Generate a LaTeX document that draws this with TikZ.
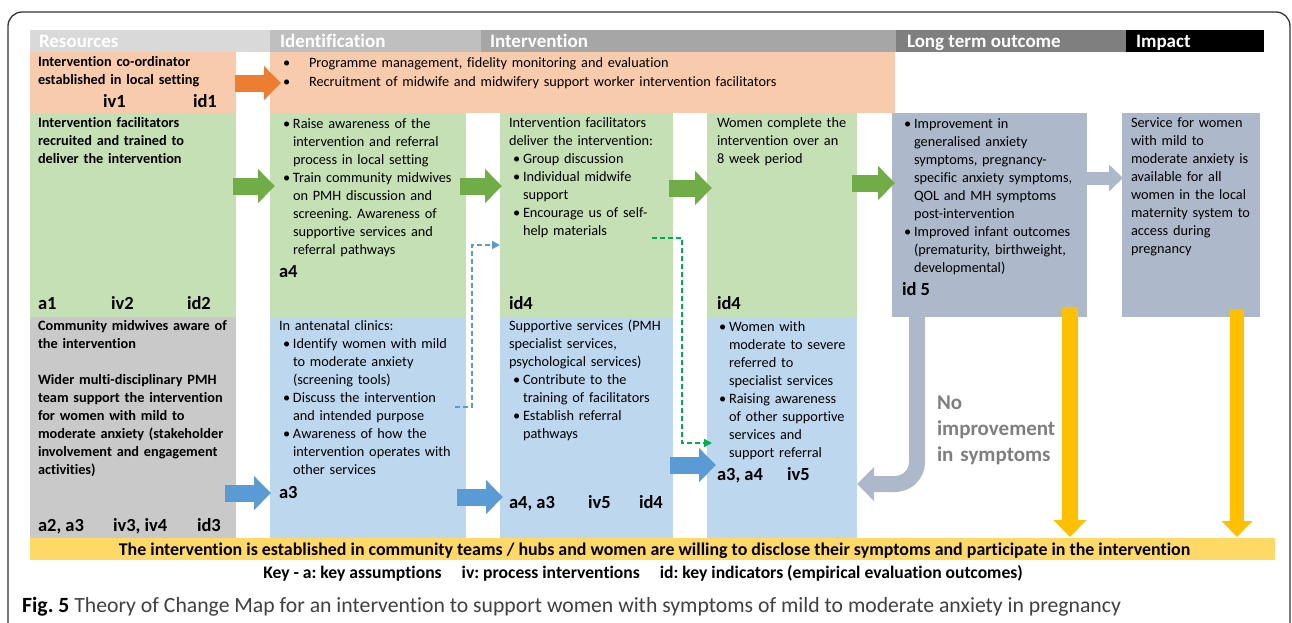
\documentclass[tikz,border=0pt]{standalone}
\usepackage{fontspec}
\setmainfont{Carlito}[Ligatures=NoCommon]
\usetikzlibrary{arrows.meta,fit}
\frenchspacing
\definecolor{hdRes}{HTML}{D9D9D9}
\definecolor{hdIdent}{HTML}{BFBFBF}
\definecolor{hdInt}{HTML}{A6A6A6}
\definecolor{hdLto}{HTML}{7F7F7F}
\definecolor{orBox}{HTML}{F8CBAD}
\definecolor{orArr}{HTML}{ED7D31}
\definecolor{grBox}{HTML}{C5E0B4}
\definecolor{grArr}{HTML}{70AD47}
\definecolor{blBox}{HTML}{BDD7EE}
\definecolor{blArr}{HTML}{5B9BD5}
\definecolor{gyBox}{HTML}{C9C9C9}
\definecolor{sgBox}{HTML}{ADB9CA}
\definecolor{yeArr}{HTML}{FFC000}
\definecolor{yeBar}{HTML}{FFD966}
\definecolor{gnDash}{HTML}{00B050}
\definecolor{noImp}{HTML}{7F7F7F}
\definecolor{capGray}{HTML}{404040}
\newcommand{\bodyf}{\fontsize{14.3pt}{18pt}\selectfont}
\newcommand{\labf}{\fontsize{18.5pt}{22pt}\selectfont\bfseries}
\newcommand{\bi}{\makebox[14pt][l]{\hspace{4pt}\textbullet}}
\newcommand{\ind}{\hspace*{14pt}}
\begin{document}
\begin{tikzpicture}[x=1pt,y=-1pt,
  box/.style={inner sep=0pt, outer sep=0pt, draw=none},
  txt/.style={anchor=base west, inner sep=0pt, outer sep=0pt, text width=260pt, align=left, font=\bodyf},
  btxt/.style={txt, font=\bodyf\bfseries},
  lab/.style={anchor=base west, inner sep=0pt, outer sep=0pt, font=\labf},
  hdr/.style={anchor=base west, inner sep=0pt, outer sep=0pt, font=\fontsize{19pt}{22pt}\selectfont\bfseries, text=white},
  blockarrow/.style={line width=17pt, -{Triangle[length=17pt,width=33pt]}},
  smallblock/.style={line width=13pt, -{Triangle[length=14pt,width=26pt]}},
  dasharrow/.style={line width=1.6pt, dash pattern=on 5pt off 3pt, -{Triangle[length=8pt,width=8pt]}}
]
\useasboundingbox (0,0) rectangle (1292,622);
\clip (0,0) rectangle (1292,622);
\fill[white] (0,0) rectangle (1292,622);
% frame
\draw[line width=1.3pt, draw=black!80, rounded corners=14pt] (8,12) rectangle (1290,660);

% headers
\node[box, fill=hdRes, fit={(30,30) (270,52)}] (hRes) {};
\node[box, fill=hdIdent, fit={(270,30) (481,52)}] (hIdent) {};
\node[box, fill=hdInt, fit={(481,30) (896,52)}] (hInt) {};
\node[box, fill=hdLto, fit={(896,30) (1126,52)}] (hLto) {};
\node[box, fill=black, fit={(1126,30) (1264,52)}] (hImp) {};
\node[hdr] (thRes) at (39,47.5) {Resources};
\node[hdr] (thIdent) at (280,47.5) {Identification};
\node[hdr] (thInt) at (490,47.5) {Intervention};
\node[hdr] (thLto) at (907,47.5) {Long term outcome};
\node[hdr] (thImp) at (1136,47.5) {Impact};

% row 1
\node[box, fill=orBox, fit={(30,52) (236,113)}] (res1) {};
\node[box, fill=orBox, fit={(270,52) (895,113)}] (ident1) {};
% row 2
\node[box, fill=grBox, fit={(30,113) (236,317)}] (res2) {};
\node[box, fill=grBox, fit={(270,113) (466,317)}] (ident2) {};
\node[box, fill=grBox, fit={(500,113) (673,317)}] (intA2) {};
\node[box, fill=grBox, fit={(707,113) (857,317)}] (intB2) {};
\node[box, fill=sgBox, fit={(892,113) (1087,317)}] (lto) {};
\node[box, fill=sgBox, fit={(1122,113) (1260,317)}] (impact) {};
% row 3
\node[box, fill=gyBox, fit={(30,317) (236,538)}] (res3) {};
\node[box, fill=blBox, fit={(270,317) (466,538)}] (ident3) {};
\node[box, fill=blBox, fit={(500,317) (673,538)}] (intA3) {};
\node[box, fill=blBox, fit={(707,317) (857,538)}] (intB3) {};
% bottom bar
\node[box, fill=yeBar, fit={(30,538) (1275,560)}] (bar) {};

% arrow end points
\coordinate (oA) at (235,83);   \coordinate (oB) at (281,83);
\coordinate (g1A) at (233,186); \coordinate (g1B) at (275,186);
\coordinate (g2A) at (460,186); \coordinate (g2B) at (502,186);
\coordinate (g3A) at (669,188); \coordinate (g3B) at (712,188);
\coordinate (g4A) at (852,183); \coordinate (g4B) at (895,183);
\coordinate (sA) at (1086,178); \coordinate (sB) at (1123,178);
\coordinate (b1A) at (225,493); \coordinate (b1B) at (271,493);
\coordinate (b2A) at (457,497); \coordinate (b2B) at (503,497);
\coordinate (b3A) at (670,465); \coordinate (b3B) at (716,465);
\coordinate (nA) at (917,312);  \coordinate (nC) at (917,484); \coordinate (nB) at (857,484);
\coordinate (y1A) at (1070,307); \coordinate (y1B) at (1070,537);
\coordinate (y2A) at (1237,309); \coordinate (y2B) at (1237,537);
\coordinate (dbA) at (455,407); \coordinate (dbM1) at (472,407); \coordinate (dbM2) at (472,245); \coordinate (dbB) at (500,245);
\coordinate (dgA) at (652,238); \coordinate (dgM1) at (682,238); \coordinate (dgM2) at (682,443); \coordinate (dgB) at (712,443);

% block arrows
\draw[blockarrow, orArr] (oA) -- (oB);
\draw[blockarrow, grArr] (g1A) -- (g1B);
\draw[blockarrow, grArr] (g2A) -- (g2B);
\draw[blockarrow, grArr] (g3A) -- (g3B);
\draw[blockarrow, grArr] (g4A) -- (g4B);
\draw[smallblock, sgBox] (sA) -- (sB);
\draw[blockarrow, blArr] (b1A) -- (b1B);
\draw[blockarrow, blArr] (b2A) -- (b2B);
\draw[blockarrow, blArr] (b3A) -- (b3B);
\draw[line width=16pt, sgBox, rounded corners=22pt, -{Triangle[length=17pt,width=33pt]}] (nA) -- (nC) -- (nB);
\draw[line width=16pt, yeArr, -{Triangle[length=17pt,width=32pt]}] (y1A) -- (y1B);
\draw[line width=14pt, yeArr, -{Triangle[length=16pt,width=30pt]}] (y2A) -- (y2B);
% dashed connectors
\draw[dasharrow, blArr] (dbA) -- (dbM1) -- (dbM2) -- (dbB);
\draw[dasharrow, gnDash] (dgA) -- (dgM1) -- (dgM2) -- (dgB);

% row 1 text
\node[btxt] (tRes1) at (38,66.5) {Intervention co-ordinator\\established in local setting};
\node[lab] (lRes1a) at (103,107) {iv1};
\node[lab] (lRes1b) at (193,107) {id1};
\node[txt, text width=600pt] (tIdent1) at (283,67.5) {\makebox[26pt][l]{\textbullet}Programme management, fidelity monitoring and evaluation\\[1pt]\makebox[26pt][l]{\textbullet}Recruitment of midwife and midwifery support worker intervention facilitators};

% row 2 text
\node[btxt] (tRes2) at (38,127.5) {Intervention facilitators\\recruited and trained to\\deliver the intervention};
\node[lab] (lRes2a) at (38,309) {a1};
\node[lab] (lRes2b) at (111,309) {iv2};
\node[lab] (lRes2c) at (187,309) {id2};
\node[txt] (tIdent2) at (279,128.5) {\bi Raise awareness of the\\\ind intervention and referral\\\ind process in local setting\\\bi Train community midwives\\\ind on PMH discussion and\\\ind screening. Awareness of\\\ind supportive services and\\\ind referral pathways};
\node[lab] (lIdent2) at (279,277.5) {a4};
\node[txt] (tIntA2) at (509,127.5) {Intervention facilitators\\deliver the intervention:\\\bi Group discussion\\\bi Individual midwife\\\ind support\\\bi Encourage us of self-\\\ind help materials};
\node[lab] (lIntA2) at (509,309.5) {id4};
\node[txt] (tIntB2) at (717,127.5) {Women complete the\\intervention over an\\8 week period};
\node[lab] (lIntB2) at (717,309) {id4};
\node[txt] (tLto) at (900,128.5) {\bi Improvement in\\\ind generalised anxiety\\\ind symptoms, pregnancy-\\\ind specific anxiety symptoms,\\\ind QOL and MH symptoms\\\ind post-intervention\\\bi Improved infant outcomes\\\ind (prematurity, birthweight,\\\ind developmental)};
\node[lab] (lLto) at (902,295) {id 5};
\node[txt] (tImp) at (1131,127.5) {Service for women\\with mild to\\moderate anxiety is\\available for all\\women in the local\\maternity system to\\access during\\pregnancy};

% row 3 text
\node[btxt] (tRes3) at (38,330.5) {Community midwives aware of\\the intervention\\[18pt]Wider multi-disciplinary PMH\\team support the intervention\\for women with mild to\\moderate anxiety (stakeholder\\involvement and engagement\\activities)};
\node[lab] (lRes3a) at (38,531.5) {a2, a3};
\node[lab] (lRes3b) at (113,531.5) {iv3, iv4};
\node[lab] (lRes3c) at (197,531.5) {id3};
\node[txt] (tIdent3) at (279,330.5) {In antenatal clinics:\\\bi Identify women with mild\\\ind to moderate anxiety\\\ind (screening tools)\\\bi Discuss the intervention\\\ind and intended purpose\\\bi Awareness of how the\\\ind intervention operates with\\\ind other services};
\node[lab] (lIdent3) at (279,498.5) {a3};
\node[txt] (tIntA3) at (509,330.5) {Supportive services (PMH\\specialist services,\\psychological services)\\\bi Contribute to the\\\ind training of facilitators\\\bi Establish referral\\\ind pathways};
\node[lab] (lIntA3a) at (509,508.5) {a4, a3};
\node[lab] (lIntA3b) at (588,508.5) {iv5};
\node[lab] (lIntA3c) at (639,508.5) {id4};
\node[txt] (tIntB3) at (715,331.5) {\bi Women with\\\ind moderate to severe\\\ind referred to\\\ind specialist services\\\bi Raising awareness\\\ind of other supportive\\\ind services and\\\ind support referral};
\node[lab] (lIntB3a) at (717,480) {a3, a4};
\node[lab] (lIntB3b) at (787,480) {iv5};
\node[txt, text width=150pt, text=noImp, font=\fontsize{21pt}{26pt}\selectfont\bfseries] (tNoImp) at (937,409.5) {No\\improvement\\in symptoms};

% bottom texts
\node[anchor=base, inner sep=0pt, font=\fontsize{17.9pt}{20pt}\selectfont\bfseries] (tBar) at (654.5,555) {The intervention is established in community teams / hubs and women are willing to disclose their symptoms and participate in the intervention};
\node[anchor=base, inner sep=0pt, font=\fontsize{17.6pt}{20pt}\selectfont\bfseries] (tKey) at (643,578) {Key - a: key assumptions\hspace{20pt}iv: process interventions\hspace{20pt}id: key indicators (empirical evaluation outcomes)};
\node[anchor=base west, inner sep=0pt, font=\fontsize{21.7pt}{24pt}\selectfont, text=capGray] (tCap) at (22,612) {\textcolor{black}{\bfseries Fig. 5} Theory of Change Map for an intervention to support women with symptoms of mild to moderate anxiety in pregnancy};
\end{tikzpicture}
\end{document}
